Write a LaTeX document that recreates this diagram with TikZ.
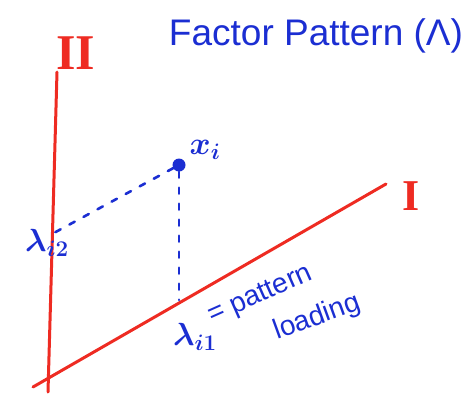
\documentclass[tikz,border=0pt]{standalone}
\usepackage{fix-cm}
\usepackage{fontspec}
\setmainfont{Liberation Sans}
\newfontfamily\romfont{Liberation Serif}
\usetikzlibrary{calc}
\definecolor{pen}{HTML}{1B2ED2}
\definecolor{axisred}{HTML}{EE2B22}
\tikzset{
  axisline/.style={draw=axisred,line width=3pt,line cap=round},
  proj/.style={draw=pen,line width=2.6pt,line cap=round,dash pattern=on 6pt off 10pt},
  axislbl/.style={text=axisred,font=\romfont\bfseries\fontsize{50}{50}\selectfont,inner sep=0pt},
  penlbl/.style={text=pen,inner sep=0pt},
  mathlbl/.style={penlbl,font=\fontsize{32}{32}\selectfont\boldmath},
  dot/.style={circle,fill=pen,inner sep=0pt,minimum size=13pt},
}
\begin{document}
\begin{tikzpicture}[x=1pt,y=-1pt]
\useasboundingbox (0,0) rectangle (462,394);
% axes
\coordinate (twotop) at (57,72);
\coordinate (twobot) at (48,392);
\coordinate (onelo) at (33,387);
\coordinate (onehi) at (386,184);
\draw[axisline] (twotop) -- (twobot);
\draw[axisline] (onelo) -- (onehi);
\node[axislbl] (lbltwo) at (76,53) {II};
\node[axislbl,font=\romfont\bfseries\fontsize{44}{44}\selectfont] (lblone) at (411,196) {I};
% the point and its projections
\node[dot] (xi) at (179,165) {};
\coordinate (foottwo) at (52,234);
\coordinate (footone) at (179,300);
\draw[proj] (xi) -- (foottwo);
\draw[proj] (xi) -- (footone);
\node[mathlbl] (xlbl) at (205,150) {$x_i$};
\node[mathlbl] (ltwo) at (47,243) {$\lambda_{i2}$};
\node[mathlbl] (lone) at (195,337) {$\lambda_{i1}$};
\node[penlbl,font=\fontsize{28}{28}\selectfont,rotate=24,anchor=base west] (eqtxt) at (212,324) {= pattern};
\node[penlbl,font=\fontsize{28}{28}\selectfont,rotate=20,anchor=base west] (loadtxt) at (277,340) {loading};
% title
\node[penlbl,font=\fontsize{37}{37}\selectfont] (title) at (316,36) {Factor Pattern (Λ)};
\end{tikzpicture}
\end{document}
